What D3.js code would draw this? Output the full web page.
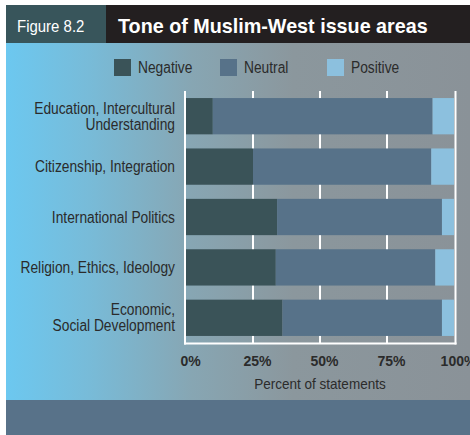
<!DOCTYPE html>
<html>
<head>
<meta charset="utf-8">
<script src="https://cdn.jsdelivr.net/npm/d3@7"></script>
<style>
  html, body { margin: 0; padding: 0; background: #ffffff; overflow: hidden; }
  svg { display: block; }
  text { font-family: "Liberation Sans", Arial, Helvetica, sans-serif; }
</style>
</head>
<body>
<svg id="chart" width="470" height="435"></svg>
<script>
// Issue areas, top to bottom
const categories = [
  ["Education, Intercultural", "Understanding"],
  ["Citizenship, Integration"],
  ["International Politics"],
  ["Religion, Ethics, Ideology"],
  ["Economic,", "Social Development"]
];
const seriesNames = ["Negative", "Neutral", "Positive"];
// Share of statements (%) for each tone
const negative = [10, 25, 34, 33.5, 36];
const neutral  = [82, 66.5, 61.5, 59.5, 59.5];
const positive = [8, 8.5, 4.5, 7, 4.5];
const tickValues = [0, 25, 50, 75, 100];
const tickLabels = ["0%", "25%", "50%", "75%", "100%"];

const colors = { Negative: "#3a5358", Neutral: "#577289", Positive: "#8cc0de" };

const svg = d3.select("#chart");
const W = 470, H = 435;

// Squeeze text horizontally to a condensed face
function condense(sel, k) {
  sel.each(function () {
    const w = this.getComputedTextLength();
    d3.select(this).attr("textLength", w * k).attr("lengthAdjust", "spacingAndGlyphs");
  });
}

// Background gradient of the panel
const defs = svg.append("defs");
const grad = defs.append("linearGradient").attr("id", "panelGrad")
  .attr("x1", "0%").attr("x2", "100%").attr("y1", "0%").attr("y2", "0%");
grad.append("stop").attr("offset", "0%").attr("stop-color", "#6cc8f0");
grad.append("stop").attr("offset", "18%").attr("stop-color", "#78bbd8");
grad.append("stop").attr("offset", "40%").attr("stop-color", "#87a6b3");
grad.append("stop").attr("offset", "62%").attr("stop-color", "#8b979d");
grad.append("stop").attr("offset", "100%").attr("stop-color", "#8a9298");

const left = 6, right = W;
svg.append("rect").attr("x", left).attr("y", 43).attr("width", right - left).attr("height", 357)
  .attr("fill", "url(#panelGrad)");
svg.append("rect").attr("x", left).attr("y", 400).attr("width", right - left).attr("height", 35)
  .attr("fill", "#587289");

// Header
svg.append("rect").attr("x", left).attr("y", 5).attr("width", 100).attr("height", 38).attr("fill", "#38555b");
svg.append("rect").attr("x", 106).attr("y", 5).attr("width", right - 106).attr("height", 38).attr("fill", "#231f20");
svg.append("text").attr("x", 17).attr("y", 32).attr("fill", "#ffffff")
  .style("font-size", "17px").text("Figure 8.2")
  .call(condense, 0.88);
svg.append("text").attr("x", 118).attr("y", 33).attr("fill", "#ffffff")
  .style("font-size", "21px").style("font-weight", "bold").text("Tone of Muslim-West issue areas")
  .call(condense, 0.94);

// Legend
const legendX = [114, 220, 327];
const legend = svg.append("g").selectAll("g").data(seriesNames).join("g")
  .attr("transform", (d, i) => `translate(${legendX[i]},59)`);
legend.append("rect").attr("width", 17).attr("height", 17).attr("fill", d => colors[d]);
legend.append("text").attr("x", 24).attr("y", 14).attr("fill", "#2b2b2b")
  .style("font-size", "16px").text(d => d)
  .call(condense, 0.86);

// Scales
const x = d3.scaleLinear().domain([0, 100]).range([186, 454]);
const y = d3.scaleBand().domain(d3.range(categories.length)).range([91, 343])
  .paddingInner(0.28).paddingOuter(0.14);

// Gridlines
svg.append("g").selectAll("line").data(tickValues.slice(1, -1)).join("line")
  .attr("x1", d => x(d)).attr("x2", d => x(d)).attr("y1", 91).attr("y2", 343)
  .attr("stroke", "#ffffff").attr("stroke-width", 2);

// Stacked bars
const rows = categories.map((c, i) => ({ idx: i, Negative: negative[i], Neutral: neutral[i], Positive: positive[i] }));
const stack = d3.stack().keys(seriesNames)(rows);
svg.append("g").selectAll("g").data(stack).join("g")
  .attr("fill", d => colors[d.key])
  .selectAll("rect").data(d => d).join("rect")
  .attr("x", d => x(d[0]))
  .attr("width", d => x(d[1]) - x(d[0]))
  .attr("y", d => y(d.data.idx))
  .attr("height", y.bandwidth());

// Frame lines
svg.append("line").attr("x1", 185).attr("x2", 185).attr("y1", 91).attr("y2", 344.5)
  .attr("stroke", "#ffffff").attr("stroke-width", 2);
svg.append("line").attr("x1", 455.5).attr("x2", 455.5).attr("y1", 91).attr("y2", 344.5)
  .attr("stroke", "#ffffff").attr("stroke-width", 2);
svg.append("line").attr("x1", 184).attr("x2", 456.5).attr("y1", 343.5).attr("y2", 343.5)
  .attr("stroke", "#ffffff").attr("stroke-width", 2);

// Category labels, one text per line
const lines = categories.flatMap((d, i) => d.map((t, j) => ({ t, i, off: (j - (d.length - 1) / 2) * 16 })));
svg.append("g").selectAll("text").data(lines).join("text")
  .attr("text-anchor", "end").attr("fill", "#2b2b2b").style("font-size", "16px")
  .attr("x", 175)
  .attr("y", d => y(d.i) + y.bandwidth() / 2 + 5.5 + d.off)
  .text(d => d.t)
  .call(condense, 0.86);

// Bottom axis labels
const xAxis = d3.axisBottom(x).tickValues(tickValues).tickSize(0)
  .tickFormat((d, i) => tickLabels[i]);
const ax = svg.append("g").attr("transform", "translate(4,353)").call(xAxis);
ax.select(".domain").remove();
ax.selectAll("text").attr("fill", "#2b2b2b").style("font-size", "14px").style("font-weight", "bold")
  .style("font-family", "'Liberation Sans', Arial, sans-serif");

svg.append("text").attr("x", 320).attr("y", 389).attr("text-anchor", "middle")
  .attr("fill", "#2b2b2b").style("font-size", "15px").text("Percent of statements")
  .call(condense, 0.9);
</script>
</body>
</html>
